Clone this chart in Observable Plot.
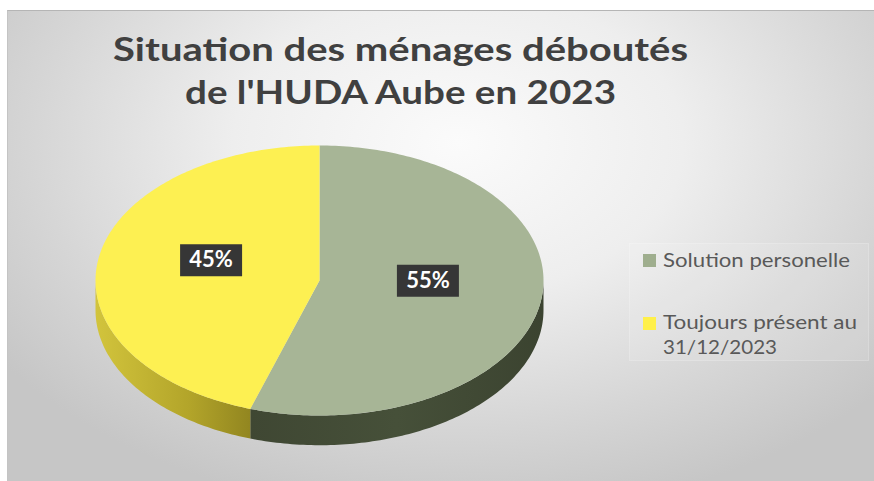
<!DOCTYPE html>
<html><head><meta charset="utf-8">
<script src="https://cdn.jsdelivr.net/npm/d3@7"></script>
<script src="https://cdn.jsdelivr.net/npm/@observablehq/plot@0.6"></script>
<style>
html,body{margin:0;padding:0;background:#fff;}
#wrap{position:relative;width:874px;height:481px;overflow:hidden;background:#fff;font-family:Lato,"Open Sans",sans-serif;}
#bg{position:absolute;left:7px;top:10px;right:0;bottom:0;
  background:radial-gradient(ellipse 65% 80% at 52% 28%, #fbfbfb 0%, #eeeeee 40%, #d6d6d6 75%, #c6c6c6 100%);
  border-top:1px solid #b5b5b5;border-left:1px solid #c4c4c4;}
#chart{position:absolute;left:0;top:0;}
#legendBox{position:absolute;left:629px;top:243px;width:238px;height:116px;background:rgba(255,255,255,0.10);border:1px solid rgba(255,255,255,0.18);}
.sw{position:absolute;width:13px;height:13px;}
#texts{position:absolute;left:0;top:0;}
</style>
</head><body>
<div id="wrap">
  <div id="bg"></div>
  <div id="legendBox"></div>
  <div id="chart"></div>
  <div id="legendLayer"></div>
  <svg id="texts" width="874" height="481" font-family="Lato, 'Open Sans', sans-serif">
    <text x="400.5" y="61" text-anchor="middle" font-size="33" font-weight="700" fill="#404040" textLength="575" lengthAdjust="spacingAndGlyphs">Situation des ménages déboutés</text>
    <text x="400.5" y="104" text-anchor="middle" font-size="33" font-weight="700" fill="#404040" textLength="431" lengthAdjust="spacingAndGlyphs">de l'HUDA Aube en 2023</text>
    <g id="legendText"></g>
  </svg>
</div>
<script>
// ---- data ----
const categories = ["Solution personelle", "Toujours présent au 31/12/2023"];
const shares = [55, 45];
const labelText = ["55%", "45%"];
const legendLines = [["Solution personelle"], ["Toujours présent au", "31/12/2023"]];

// ---- styles ----
const topColors = ["#a7b596", "#fdf052"];
const legendColors = ["#9fae8e", "#fff04a"];
const sideFills = ["url(#sideGreen)", "url(#sideYellow)"];
const depth = 0.22;

const TAU = 2 * Math.PI;
const total = d3.sum(shares);
let acc = 0;
const slices = shares.map((v, i) => {
  const a0 = acc / total * TAU; acc += v; const a1 = acc / total * TAU;
  return {i, a0, a1, name: categories[i], label: labelText[i]};
});
const arcPts = (a0, a1, dy = 0) => {
  const n = Math.max(2, Math.ceil((a1 - a0) / (TAU / 360)));
  return d3.range(n + 1).map(k => { const t = a0 + (a1 - a0) * k / n; return {x: Math.sin(t), y: Math.cos(t) + dy}; });
};
const topPolys = slices.map(s => [{x: 0, y: 0}, ...arcPts(s.a0, s.a1), {x: 0, y: 0}]);
const sidePolys = slices.map(s => {
  const s0 = Math.max(s.a0, Math.PI / 2), s1 = Math.min(s.a1, 3 * Math.PI / 2);
  if (s1 <= s0) return [];
  return [...arcPts(s0, s1), ...arcPts(s0, s1, -depth).reverse()];
});
const shadow = arcPts(0, TAU).map(p => ({x: p.x * 1.04 + 0.05, y: p.y * 1.06 - depth / 2 - 0.06}));
const labels = slices.map(s => { const m = (s.a0 + s.a1) / 2; return {x: 0.49 * Math.sin(m), y: 0.49 * Math.cos(m), label: s.label}; });

const boxSymbol = {draw(ctx) { ctx.moveTo(-31, -16); ctx.lineTo(31, -16); ctx.lineTo(31, 16); ctx.lineTo(-31, 16); ctx.closePath(); }};

const marks = [
  Plot.line(shadow, {x: "x", y: "y", fill: "#6c6c78", fillOpacity: 0.5, stroke: "none", ariaLabel: "shadow"}),
  ...sidePolys.map((p, i) => Plot.line(p, {x: "x", y: "y", fill: sideFills[i], stroke: "none"})),
  ...topPolys.map((p, i) => Plot.line(p, {x: "x", y: "y", fill: topColors[i], stroke: "none"})),
  Plot.dot(labels, {x: "x", y: "y", dy: -10, symbol: boxSymbol, r: 10, fill: "#363636", stroke: "none", ariaLabel: "labelbox"}),
  Plot.text(labels, {x: "x", y: "y", dy: -10, text: "label", fill: "#ffffff", fontSize: 22, fontWeight: 700, fontFamily: "Lato, 'Open Sans', sans-serif"})
];

const chart = Plot.plot({
  width: 874, height: 481,
  marginLeft: 95, marginRight: 331, marginTop: 145, marginBottom: 66,
  x: {domain: [-1, 1], axis: null},
  y: {domain: [-1, 1], axis: null},
  style: {background: "transparent", overflow: "visible"},
  marks
});
const svg = d3.select(chart);
svg.insert("defs", ":first-child").html(`
  <linearGradient id="sideGreen" x1="0" x2="1" y1="0" y2="0">
    <stop offset="0" stop-color="#3f4733"/><stop offset="0.5" stop-color="#465039"/><stop offset="1" stop-color="#3b4330"/>
  </linearGradient>
  <linearGradient id="sideYellow" x1="0" x2="1" y1="0" y2="0">
    <stop offset="0" stop-color="#d2c43c"/><stop offset="0.6" stop-color="#b3a52a"/><stop offset="1" stop-color="#928620"/>
  </linearGradient>
  <filter id="blur" x="-20%" y="-20%" width="140%" height="140%"><feGaussianBlur stdDeviation="7"/></filter>
  <filter id="boxshadow" x="-30%" y="-30%" width="160%" height="160%"><feDropShadow dx="2" dy="2" stdDeviation="2" flood-color="#000" flood-opacity="0.45"/></filter>
`);
svg.selectAll("g[aria-label=shadow]").attr("filter", "url(#blur)");
svg.selectAll("g[aria-label=labelbox]").attr("filter", "url(#boxshadow)");
document.getElementById("chart").appendChild(chart);

// ---- legend ----
const layer = document.getElementById("legendLayer");
const swTops = [254, 317];
const baselines = [[267], [329, 354]];
const lineLengths = [[187], [194, 114]];
const lt = d3.select("#legendText");
legendLines.forEach((lines, i) => {
  const sw = document.createElement("div"); sw.className = "sw";
  sw.style.left = "643px"; sw.style.top = swTops[i] + "px"; sw.style.background = legendColors[i];
  layer.appendChild(sw);
  lines.forEach((line, j) => {
    lt.append("text").attr("x", 663).attr("y", baselines[i][j])
      .attr("font-size", 19.5).attr("fill", "#595959")
      .attr("textLength", lineLengths[i][j]).attr("lengthAdjust", "spacingAndGlyphs")
      .text(line);
  });
});
</script>
</body></html>
